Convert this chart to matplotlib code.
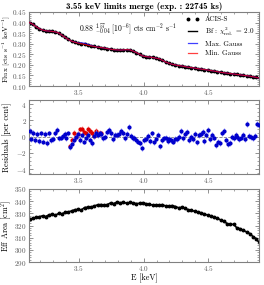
import numpy as np
import matplotlib
matplotlib.use("Agg")
import matplotlib.pyplot as plt
from matplotlib.ticker import MultipleLocator
from matplotlib.lines import Line2D

plt.rcParams['font.family'] = 'serif'
plt.rcParams['font.serif'] = ['cmr10', 'DejaVu Serif']
plt.rcParams['mathtext.fontset'] = 'cm'
plt.rcParams['axes.formatter.use_mathtext'] = True
plt.rcParams['axes.unicode_minus'] = False

# ---------------- data ----------------
title = "3.55 keV limits merge (exp. : 22745 ks)"

energy = np.round(np.arange(3.120, 4.8951, 0.025), 3)
flux = [0.400, 0.392, 0.381, 0.371, 0.365, 0.361, 0.360, 0.358, 0.356, 0.351,
        0.340, 0.330, 0.320, 0.312, 0.307, 0.303, 0.300, 0.297, 0.293, 0.290,
        0.287, 0.284, 0.282, 0.280, 0.277, 0.274, 0.272, 0.271, 0.270, 0.271,
        0.272, 0.271, 0.265, 0.258, 0.250, 0.242, 0.239, 0.237, 0.235, 0.232,
        0.229, 0.222, 0.214, 0.208, 0.203, 0.200, 0.197, 0.195, 0.192, 0.189,
        0.187, 0.185, 0.182, 0.180, 0.178, 0.176, 0.173, 0.171, 0.168, 0.165,
        0.163, 0.161, 0.159, 0.157, 0.155, 0.153, 0.151, 0.149, 0.147, 0.144,
        0.141, 0.137]
flux_err = 0.003
# extra flux of the maximal gaussian (3.470 .. 3.620)
gauss_max_energy = [3.470, 3.495, 3.520, 3.545, 3.570, 3.595, 3.620]
gauss_max_excess = [0.0005, 0.002, 0.004, 0.005, 0.004, 0.002, 0.0005]

eff_area = [325.0, 325.8, 326.8, 327.2, 328.0, 327.4, 328.8, 329.2, 328.5, 330.0,
            329.6, 330.8, 331.2, 332.0, 333.0, 333.2, 332.8, 334.8, 335.0, 335.2,
            336.0, 337.0, 337.2, 336.8, 337.2, 338.5, 338.0, 339.3, 338.6, 339.2,
            338.2, 339.0, 338.4, 338.0, 338.2, 338.8, 337.8, 337.4, 336.8, 336.9,
            336.6, 337.2, 336.0, 335.8, 336.4, 335.6, 334.6, 334.9, 334.0, 333.0,
            332.6, 331.6, 331.0, 330.4, 329.4, 328.6, 327.8, 327.0, 326.0, 324.6,
            323.6, 321.6, 321.0, 321.0, 318.2, 317.4, 316.0, 314.8, 313.4, 311.0,
            309.2, 305.4]

res_energy = np.round(np.arange(3.120, 4.8901, 0.015), 3)
res_max = [0.7, -0.3, 0.5, -0.4, 0.3, -0.5, 0.4, -0.6, 0.3, -0.8,
           0.4, -0.4, -0.3, 0.4, 0.8, -0.2, -0.1, 0.1, 0.3, -0.2,
           0.4, -1.3, -0.9, -0.4, 0.0, 0.3, -0.4, 0.2, -0.6, -0.2,
           0.2, -0.4, -0.8, 0.1, 0.5, 0.2, 0.4, 0.3, -0.2, 0.0,
           0.6, 0.8, 0.5, -0.3, 0.2, 0.2, 0.3, 0.7, 0.4, -0.2,
           0.3, 1.2, 0.1, -0.2, -0.1, -0.4, -0.6, -0.8, -1.4, -0.4,
           -0.3, 0.1, -0.5, 0.4, -0.7, -0.3, 0.2, -1.2, -0.4, -0.2,
           -0.1, -0.5, -0.3, -0.4, -0.6, -0.3, -0.3, 0.0, 0.7, -0.2,
           0.3, 0.6, -0.4, 0.0, -0.3, 0.3, -0.7, 0.2, 0.3, 0.6,
           -0.5, 0.2, 0.8, -0.3, 0.2, -0.1, -1.0, -0.6, -0.8, 0.4,
           0.7, -0.4, -0.9, -0.8, 0.0, -0.2, 0.2, 0.0, -0.3, -0.1,
           0.2, -0.3, 1.6, 0.1, 0.0, -0.2, 0.1, 1.6, 1.4]
res_err = 0.35

res_min_energy = np.round(np.arange(3.435, 3.6801, 0.015), 3)
res_min = [-1.2, -0.4, 0.5, 0.0, 0.3, 0.9, 1.0, 0.6, 0.4, 1.0,
           0.7, 0.5, 0.1, 0.7, 0.3, 0.5, 0.4]

# ---------------- figure ----------------
fig = plt.figure(figsize=(2.64, 2.85), dpi=100)
ax1 = fig.add_axes([0.109, 0.698, 0.872, 0.260])
ax2 = fig.add_axes([0.109, 0.389, 0.872, 0.261])
ax3 = fig.add_axes([0.109, 0.080, 0.872, 0.257])

gray = '#808080'
for ax in (ax1, ax2, ax3):
    for s in ax.spines.values():
        s.set_color(gray)
        s.set_linewidth(0.8)
    ax.tick_params(which='both', direction='in', top=True, right=True,
                   colors=gray, labelsize=5.2, labelcolor='#555555', pad=1.5)
    ax.tick_params(which='major', length=3, width=0.6)
    ax.tick_params(which='minor', length=1.5, width=0.5)
    ax.set_xlim(3.114, 4.891)
    ax.xaxis.set_major_locator(MultipleLocator(0.5))
    ax.xaxis.set_minor_locator(MultipleLocator(0.1))

# top panel
gm = np.interp(energy, gauss_max_energy, gauss_max_excess, left=0, right=0)
ax1.errorbar(energy, flux, yerr=flux_err, xerr=0.0125, fmt='o', color='black',
             ms=1.8, ecolor='#555555', elinewidth=0.5, capsize=0, zorder=2)
h_bf, = ax1.plot(energy, flux, color='black', lw=1.0, zorder=3)
h_max, = ax1.plot(energy, np.array(flux) + gm, color='blue', lw=0.9, alpha=0.75, zorder=4)
h_min, = ax1.plot(energy, flux, color='red', lw=0.9, alpha=0.75, zorder=5)
ax1.set_ylim(0.10, 0.45)
ax1.yaxis.set_major_locator(MultipleLocator(0.05))
ax1.yaxis.set_minor_locator(MultipleLocator(0.01))
ax1.set_ylabel(r'Flux [cts s$^{-1}$ keV$^{-1}$]', fontsize=5.4)
ax1.set_title(title, fontsize=6.5, fontweight='bold', pad=2, family=['cmb10', 'cmr10'])
ax1.text(0.22, 0.78, r'$0.88\ ^{1.57}_{-0.04}\ [10^{-6}]$ cts cm$^{-2}$ s$^{-1}$',
         transform=ax1.transAxes, fontsize=5.5, va='center')
h_pts = Line2D([], [], ls='none', marker='o', color='black', ms=1.8)
ax1.legend([h_pts, h_bf, h_max, h_min],
           ['ACIS-S', r'Bf : $\chi^2_{\rm red.}$ = 2.0', 'Max. Gauss', 'Min. Gauss'],
           loc='upper right', frameon=False, fontsize=5.2, numpoints=2,
           handlelength=1.8, labelspacing=0.45, borderaxespad=0.2, handletextpad=0.8)

# middle panel
ax2.axhline(0, color=gray, lw=0.6, ls='--', zorder=1)
ax2.errorbar(res_energy, res_max, yerr=res_err, xerr=0.0075, fmt='o', color='#0000cc',
             ms=2.0, ecolor='#9999ff', elinewidth=0.8, capsize=0, zorder=3)
ax2.errorbar(res_min_energy, res_min, yerr=res_err, xerr=0.0075, fmt='o', color='#dd0000',
             ms=2.0, ecolor='#ff9999', elinewidth=0.8, capsize=0, zorder=2)
ax2.set_ylim(-4.6, 4.55)
ax2.yaxis.set_major_locator(MultipleLocator(2))
ax2.yaxis.set_minor_locator(MultipleLocator(0.5))
ax2.set_ylabel('Residuals [per cent]', fontsize=5.8)

# bottom panel
ax3.plot(energy, eff_area, color='black', lw=1.2, marker='o', ms=1.8)
ax3.set_ylim(290, 350)
ax3.yaxis.set_major_locator(MultipleLocator(10))
ax3.yaxis.set_minor_locator(MultipleLocator(2))
ax3.set_ylabel(r'Eff Area [cm$^2$]', fontsize=5.8)
ax3.set_xlabel('E [keV]', fontsize=5.8)

ax1.yaxis.set_label_coords(-0.072, 0.5)
ax2.yaxis.set_label_coords(-0.072, 0.5)
ax3.yaxis.set_label_coords(-0.066, 0.5)
ax3.xaxis.set_label_coords(0.5, -0.15)

fig.savefig('out.png', dpi=100)
